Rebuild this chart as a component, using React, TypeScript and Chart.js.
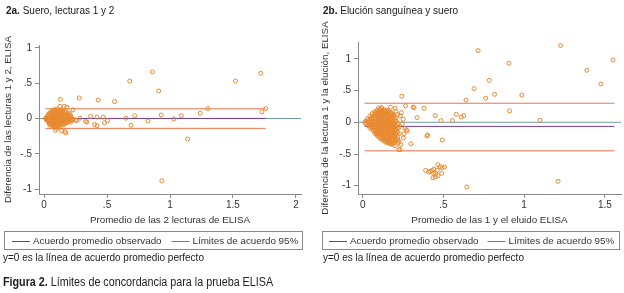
import React, { useEffect, useRef } from "react";
import { Chart, registerables } from "chart.js";

Chart.register(...registerables);

// ---------- Data ----------
const serumPoints: [number, number][] = [
  [0.012, 0.004], [0.016, -0.012], [0.02, 0.018], [0.022, -0.022], [0.027, 0.002],
  [0.025, 0.011], [0.028, -0.028],
  [0.031, 0.041], [0.033, -0.038], [0.036, 0.063], [0.038, 0.012], [0.04, -0.056], [0.042, -0.015],
  [0.043, 0.054], [0.044, 0.026], [0.042, -0.004], [0.045, -0.036], [0.043, -0.071],
  [0.048, 0.083], [0.05, 0.038], [0.052, 0.006], [0.049, -0.031], [0.053, -0.072], [0.046, -0.092],
  [0.058, 0.086], [0.057, 0.046], [0.059, 0.004], [0.056, -0.041], [0.058, -0.081],
  [0.063, 0.104], [0.066, 0.062], [0.061, 0.024], [0.068, -0.018], [0.064, -0.058], [0.067, -0.101],
  [0.072, 0.112], [0.071, 0.079], [0.073, 0.041], [0.072, 0.001], [0.071, -0.039], [0.073, -0.081], [0.072, -0.112],
  [0.078, 0.122], [0.081, 0.081], [0.083, 0.043], [0.079, 0.003], [0.082, -0.038], [0.077, -0.079], [0.084, -0.118],
  [0.088, 0.114], [0.087, 0.079], [0.089, 0.041], [0.088, -0.001], [0.087, -0.041], [0.089, -0.079], [0.088, -0.109],
  [0.093, 0.102], [0.097, 0.058], [0.092, 0.021], [0.098, -0.019], [0.094, -0.062], [0.096, -0.098], [0.101, 0.134],
  [0.103, 0.091], [0.102, 0.051], [0.104, 0.009], [0.103, -0.031], [0.102, -0.071], [0.104, -0.112],
  [0.108, 0.112], [0.112, 0.072], [0.109, 0.028], [0.113, -0.012], [0.107, -0.052], [0.111, -0.088], [0.116, -0.121],
  [0.118, 0.094], [0.117, 0.051], [0.119, 0.011], [0.118, -0.029], [0.117, -0.071], [0.119, -0.104],
  [0.124, 0.091], [0.127, 0.048], [0.122, 0.012], [0.128, -0.031], [0.123, -0.069], [0.131, 0.118],
  [0.133, 0.101], [0.132, 0.061], [0.134, 0.019], [0.133, -0.021], [0.132, -0.061], [0.134, -0.091],
  [0.138, 0.079], [0.142, 0.041], [0.137, 0.002], [0.143, -0.041], [0.139, -0.079], [0.147, 0.108],
  [0.15, 0.089], [0.149, 0.051], [0.151, 0.011], [0.15, -0.029], [0.149, -0.071],
  [0.157, 0.068], [0.161, 0.028], [0.158, -0.012], [0.163, -0.052], [0.154, -0.088], [0.166, 0.098],
  [0.17, 0.081], [0.169, 0.041], [0.171, 0.001], [0.17, -0.041], [0.169, -0.069],
  [0.176, 0.052], [0.181, 0.012], [0.178, -0.028], [0.183, -0.061], [0.187, 0.079],
  [0.19, 0.061], [0.191, 0.021], [0.189, -0.019], [0.19, -0.044],
  [0.198, 0.038], [0.202, 0.002], [0.197, -0.031], [0.206, 0.068], [0.211, -0.052],
  [0.21, 0.041], [0.209, 0.001], [0.211, -0.029],
  [0.218, 0.021], [0.223, -0.018],
  [0.13, 0.27], [0.127, 0.172], [0.16, 0.172], [0.18, 0.158], [0.23, 0.122], [0.1, -0.142],
  [0.09, -0.168], [0.14, -0.176], [0.165, -0.182], [0.172, -0.202], [0.23, -0.012], [0.25, -0.021],
  [0.26, -0.031], [0.285, 0.005], [0.33, -0.04], [0.34, -0.05], [0.28, 0.29],
  [0.37, 0.03], [0.4, -0.085], [0.42, -0.1], [0.42, 0.02], [0.43, 0.26], [0.47, 0.02], [0.48, -0.06],
  [0.505, -0.03], [0.56, 0.24], [0.65, 0.005], [0.68, 0.53], [0.69, -0.095], [0.72, 0.04],
  [0.825, -0.035], [0.86, 0.66], [0.91, 0.39], [0.93, 0.05], [0.935, -0.88], [1.03, -0.005],
  [1.09, 0.04], [1.14, -0.29], [1.24, 0.075], [1.3, 0.14], [1.52, 0.53], [1.72, 0.64],
  [1.73, 0.095], [1.76, 0.14],
];

const elutionPoints: [number, number][] = [
  [0.014, 0.002], [0.017, -0.021], [0.019, 0.019],
  [0.029, 0.052], [0.031, 0.003], [0.032, -0.049],
  [0.037, 0.026], [0.038, -0.024],
  [0.044, 0.098], [0.046, 0.051], [0.043, 0.004], [0.047, -0.048], [0.045, -0.091],
  [0.052, 0.076], [0.053, 0.024], [0.051, -0.026], [0.052, -0.071],
  [0.059, 0.138], [0.062, 0.091], [0.058, 0.042], [0.061, -0.009], [0.063, -0.061], [0.06, -0.112],
  [0.067, 0.116], [0.068, 0.064], [0.066, 0.016], [0.067, -0.036], [0.068, -0.086], [0.066, -0.134],
  [0.074, 0.168], [0.077, 0.122], [0.073, 0.071], [0.076, 0.019], [0.078, -0.032], [0.074, -0.081], [0.077, -0.129], [0.075, -0.171],
  [0.082, 0.156], [0.083, 0.104], [0.081, 0.056], [0.082, 0.004], [0.083, -0.046], [0.081, -0.094], [0.082, -0.146], [0.083, -0.189],
  [0.089, 0.188], [0.092, 0.141], [0.088, 0.092], [0.091, 0.038], [0.093, -0.012], [0.089, -0.059], [0.092, -0.108], [0.09, -0.161], [0.091, -0.208],
  [0.097, 0.176], [0.098, 0.124], [0.096, 0.076], [0.097, 0.024], [0.098, -0.026], [0.096, -0.074], [0.097, -0.126], [0.098, -0.174], [0.096, -0.219],
  [0.104, 0.201], [0.107, 0.152], [0.103, 0.101], [0.106, 0.049], [0.108, 0.002], [0.104, -0.051], [0.107, -0.098], [0.105, -0.152], [0.103, -0.198], [0.106, -0.241],
  [0.112, 0.186], [0.113, 0.134], [0.111, 0.086], [0.112, 0.034], [0.113, -0.016], [0.111, -0.064], [0.112, -0.116], [0.113, -0.164], [0.111, -0.216], [0.112, -0.259],
  [0.119, 0.212], [0.122, 0.161], [0.118, 0.109], [0.121, 0.058], [0.123, 0.011], [0.119, -0.041], [0.122, -0.091], [0.12, -0.139], [0.118, -0.191], [0.121, -0.238], [0.123, -0.281],
  [0.127, 0.186], [0.128, 0.134], [0.126, 0.086], [0.127, 0.034], [0.128, -0.016], [0.126, -0.064], [0.127, -0.116], [0.128, -0.164], [0.126, -0.216], [0.127, -0.266],
  [0.134, 0.198], [0.137, 0.149], [0.133, 0.098], [0.136, 0.052], [0.138, -0.002], [0.134, -0.049], [0.137, -0.101], [0.135, -0.148], [0.133, -0.202], [0.136, -0.251], [0.138, -0.298],
  [0.142, 0.176], [0.143, 0.124], [0.141, 0.076], [0.142, 0.024], [0.143, -0.026], [0.141, -0.074], [0.142, -0.126], [0.143, -0.174], [0.141, -0.226], [0.142, -0.274], [0.143, -0.316],
  [0.149, 0.188], [0.152, 0.139], [0.148, 0.091], [0.151, 0.041], [0.153, -0.011], [0.149, -0.061], [0.152, -0.109], [0.15, -0.161], [0.148, -0.209], [0.151, -0.262], [0.153, -0.312],
  [0.157, 0.166], [0.158, 0.114], [0.156, 0.066], [0.157, 0.014], [0.158, -0.036], [0.156, -0.084], [0.157, -0.136], [0.158, -0.184], [0.156, -0.236], [0.157, -0.284], [0.158, -0.326],
  [0.164, 0.172], [0.167, 0.118], [0.163, 0.071], [0.166, 0.019], [0.168, -0.031], [0.164, -0.082], [0.167, -0.129], [0.165, -0.181], [0.163, -0.229], [0.166, -0.279], [0.168, -0.331],
  [0.172, 0.146], [0.173, 0.094], [0.171, 0.046], [0.172, -0.006], [0.173, -0.056], [0.171, -0.104], [0.172, -0.156], [0.173, -0.204], [0.171, -0.256], [0.172, -0.304], [0.173, -0.341],
  [0.179, 0.148], [0.182, 0.101], [0.178, 0.052], [0.181, 0.002], [0.183, -0.048], [0.179, -0.102], [0.182, -0.149], [0.18, -0.198], [0.178, -0.251], [0.181, -0.302], [0.183, -0.348],
  [0.187, 0.126], [0.188, 0.074], [0.186, 0.026], [0.187, -0.026], [0.188, -0.076], [0.186, -0.124], [0.187, -0.176], [0.188, -0.224], [0.186, -0.276], [0.187, -0.326],
  [0.194, 0.098], [0.197, 0.041], [0.193, -0.021], [0.196, -0.079], [0.198, -0.141], [0.194, -0.199], [0.197, -0.262], [0.195, -0.328],
  [0.202, 0.071], [0.203, 0.011], [0.201, -0.051], [0.202, -0.109], [0.203, -0.171], [0.201, -0.229], [0.202, -0.291],
  [0.209, 0.021], [0.212, -0.052], [0.208, -0.118], [0.211, -0.191], [0.213, -0.259],
  [0.217, -0.019], [0.218, -0.091], [0.216, -0.156], [0.217, -0.226], [0.218, -0.281],
  [0.224, -0.081], [0.227, -0.179], [0.223, -0.302],
  [0.24, 0.152], [0.231, 0.101], [0.251, 0.048], [0.246, -0.021], [0.262, -0.098], [0.252, -0.248],
  [0.236, -0.351], [0.201, 0.221], [0.172, 0.238], [0.116, 0.235], [0.099, 0.226], [0.216, 0.119],
  [0.206, 0.171], [0.256, -0.181], [0.221, -0.331], [0.201, -0.368],
  [0.242, 0.41], [0.265, 0.26], [0.312, 0.24], [0.318, 0.228], [0.38, 0.22], [0.337, 0.074],
  [0.45, 0.105], [0.485, 0.026], [0.556, 0.026], [0.58, 0.126], [0.61, 0.084], [0.626, 0.105],
  [0.64, 0.35], [0.69, 0.53], [0.715, 1.13], [0.762, 0.38], [0.784, 0.66], [0.817, 0.44],
  [0.906, 0.93], [0.91, 0.18], [0.986, 0.43], [1.097, 0.03], [1.226, 1.21], [1.388, 0.82],
  [1.476, 0.605], [1.55, 0.98],
  [0.271, -0.12], [0.276, -0.135], [0.398, -0.215], [0.402, -0.2], [0.298, -0.34], [0.493, -0.28],
  [0.224, -0.43], [0.231, -0.432], [0.645, -1.02], [1.21, -0.93],
  [0.39, -0.758], [0.409, -0.784], [0.419, -0.774], [0.431, -0.758], [0.441, -0.737], [0.462, -0.758],
  [0.439, -0.805], [0.452, -0.805], [0.466, -0.668], [0.48, -0.7], [0.493, -0.716], [0.507, -0.705],
  [0.489, -0.805], [0.466, -0.842], [0.45, -0.858], [0.435, -0.874],
];

const serumXTicks = [0, 0.5, 1, 1.5, 2];
const serumXTickLabels = ["0", ".5", "1", "1.5", "2"];
const serumYTicks = [-1, -0.5, 0, 0.5, 1];
const serumYTickLabels = ["-1", "-.5", "0", ".5", "1"];
const elutionXTicks = [0, 0.5, 1, 1.5];
const elutionXTickLabels = ["0", ".5", "1", "1.5"];
const elutionYTicks = [-1, -0.5, 0, 0.5, 1];
const elutionYTickLabels = ["-1", "-.5", "0", ".5", "1"];

// mean difference, lower limit, upper limit
const serumAgreement = [0.001, -0.139, 0.137];
const serumSpan = [0.01, 1.76];
const elutionAgreement = [-0.065, -0.45, 0.3];
const elutionSpan = [0.012, 1.56];

const legendLabels = ["Acuerdo promedio observado", "Límites de acuerdo 95%"];

// ---------- Styling ----------
const FONT = "'Liberation Sans', Arial, Helvetica, sans-serif";
const TEXT = "#333333";
const AXIS = "#8a8a8a";
const POINT = "#e8892f";
const MEAN = "#6f3fa6";
const LIMIT = "#f07248";
const LEGEND_MEAN = "#7434a8";
const LEGEND_LIMIT = "#f24a2c";
const ZERO = "#6e9e9e";
const CH_FONT = 9.8;

Chart.defaults.font.family = FONT;
Chart.defaults.font.size = 10;
Chart.defaults.color = TEXT;

type LegendBox = { left: number; top: number; width: number; height: number; inset: number; gap: number };

// Boxed legend drawn on the chart canvas (one plugin instance per chart)
function makeBoxedLegend(box: LegendBox, items: { text: string; stroke: string }[]) {
  return {
    id: "boxedLegend",
    afterDraw(chart: any) {
      const ctx = chart.ctx as CanvasRenderingContext2D;
      ctx.save();
      ctx.lineWidth = 1;
      ctx.strokeStyle = AXIS;
      ctx.strokeRect(box.left + 0.5, box.top + 0.5, box.width, box.height);
      ctx.font = `${CH_FONT}px ${FONT}`;
      ctx.textBaseline = "middle";
      ctx.textAlign = "left";
      const y = box.top + box.height / 2 + 1;
      const ly = Math.round(y) + 0.5;
      let x = box.left + box.inset;
      for (const it of items) {
        ctx.strokeStyle = it.stroke;
        ctx.beginPath();
        ctx.moveTo(x, ly);
        ctx.lineTo(x + 18, ly);
        ctx.stroke();
        ctx.fillStyle = TEXT;
        ctx.fillText(it.text, x + 21, y);
        x += 21 + ctx.measureText(it.text).width + box.gap;
      }
      ctx.restore();
    },
  };
}

type PanelProps = {
  points: [number, number][];
  agreement: number[];
  span: number[];
  xTicks: number[];
  xTickLabels: string[];
  yTicks: number[];
  yTickLabels: string[];
  xRange: [number, number];
  yRange: [number, number];
  xTitle: string;
  yTitle: string;
  canvasLeft: number;
  canvasWidth: number;
  padding: { left: number; right: number; top: number; bottom: number };
  yWidth: number;
  legend: LegendBox;
};

const H = 260;

function Panel(p: PanelProps) {
  const ref = useRef<HTMLCanvasElement | null>(null);
  useEffect(() => {
    if (!ref.current) return;
    const [mean, lo, hi] = p.agreement;
    const seg = (y: number) => [
      { x: p.span[0], y },
      { x: p.span[1], y },
    ];
    const lineDs = (label: string, data: any, color: string) => ({
      label,
      data,
      showLine: true,
      borderColor: color,
      backgroundColor: color,
      borderWidth: 1,
      pointRadius: 0,
      pointHoverRadius: 0,
    });
    const chart = new Chart(ref.current, {
      type: "scatter",
      data: {
        datasets: [
          {
            label: "",
            data: p.points.map(([x, y]) => ({ x, y })),
            borderColor: POINT,
            backgroundColor: "rgba(255,255,255,0)",
            borderWidth: 1,
            pointRadius: 2,
            pointHoverRadius: 2,
          },
          lineDs(legendLabels[0], seg(mean), MEAN),
          lineDs(legendLabels[1], seg(hi), LIMIT),
          lineDs("", seg(lo), LIMIT),
          lineDs(
            "",
            [
              { x: p.xRange[0], y: 0 },
              { x: p.xRange[1], y: 0 },
            ],
            ZERO
          ),
        ] as any,
      },
      options: {
        animation: false,
        responsive: false,
        devicePixelRatio: 1,
        events: [],
        layout: { padding: p.padding },
        plugins: {
          legend: { display: false },
          tooltip: { enabled: false },
        },
        scales: {
          x: {
            type: "linear",
            min: p.xRange[0],
            max: p.xRange[1],
            afterBuildTicks: (s: any) => {
              s.ticks = p.xTicks.map((v) => ({ value: v }));
            },
            afterFit: (s: any) => {
              s.height = 33;
            },
            ticks: {
              padding: 1,
              color: TEXT,
              font: { size: 10, family: FONT },
              callback: (v: any) => {
                const i = p.xTicks.indexOf(Number(v));
                return i >= 0 ? p.xTickLabels[i] : "";
              },
            },
            grid: { drawOnChartArea: false, tickLength: 4, color: AXIS },
            border: { color: AXIS },
            title: {
              display: true,
              text: p.xTitle,
              color: TEXT,
              font: { size: CH_FONT, family: FONT },
              padding: { top: 0, bottom: 1 },
            },
          },
          y: {
            type: "linear",
            min: p.yRange[0],
            max: p.yRange[1],
            afterBuildTicks: (s: any) => {
              s.ticks = p.yTicks.map((v) => ({ value: v }));
            },
            afterFit: (s: any) => {
              s.width = p.yWidth;
            },
            ticks: {
              padding: 3,
              color: TEXT,
              font: { size: 10, family: FONT },
              callback: (v: any) => {
                const i = p.yTicks.indexOf(Number(v));
                return i >= 0 ? p.yTickLabels[i] : "";
              },
            },
            grid: { drawOnChartArea: false, tickLength: 4, color: AXIS },
            border: { color: AXIS },
            title: {
              display: true,
              text: p.yTitle,
              color: TEXT,
              font: { size: CH_FONT, family: FONT },
              padding: { top: 0, bottom: 0 },
            },
          },
        },
      } as any,
      plugins: [
        makeBoxedLegend(p.legend, [
          { text: legendLabels[0], stroke: LEGEND_MEAN },
          { text: legendLabels[1], stroke: LEGEND_LIMIT },
        ]),
      ],
    });
    return () => chart.destroy();
  }, []);
  return (
    <canvas
      ref={ref}
      width={p.canvasWidth}
      height={H}
      style={{ position: "absolute", left: p.canvasLeft, top: 0, width: p.canvasWidth, height: H }}
    />
  );
}

const textStyle = (left: number, top: number, size = 10): React.CSSProperties => ({
  position: "absolute",
  left,
  top,
  fontFamily: FONT,
  fontSize: size,
  lineHeight: "12px",
  color: "#222",
  whiteSpace: "nowrap",
});

export default function App() {
  return (
    <div style={{ position: "absolute", left: 0, top: 0, width: 624, height: 293, background: "#fff", overflow: "hidden" }}>
      <Panel
        points={serumPoints}
        agreement={serumAgreement}
        span={serumSpan}
        xTicks={serumXTicks}
        xTickLabels={serumXTickLabels}
        yTicks={serumYTicks}
        yTickLabels={serumYTickLabels}
        xRange={[-0.04, 2.04]}
        yRange={[-1.068, 1.04]}
        xTitle="Promedio de las 2 lecturas de ELISA"
        yTitle="Diferencia de las lecturas 1 y 2, ELISA"
        canvasLeft={0}
        canvasWidth={310}
        padding={{ left: 2, right: 9, top: 45, bottom: 33 }}
        yWidth={37}
        legend={{ left: 4, top: 231, width: 298, height: 18, inset: 8, gap: 10 }}
      />
      <Panel
        points={elutionPoints}
        agreement={elutionAgreement}
        span={elutionSpan}
        xTicks={elutionXTicks}
        xTickLabels={elutionXTickLabels}
        yTicks={elutionYTicks}
        yTickLabels={elutionYTickLabels}
        xRange={[-0.029, 1.6]}
        yRange={[-1.13, 1.265]}
        xTitle="Promedio de las 1 y el eluido ELISA"
        yTitle="Diferencia de la lectura 1 y la elución, ELISA"
        canvasLeft={310}
        canvasWidth={314}
        padding={{ left: 9, right: 2, top: 42, bottom: 33 }}
        yWidth={39}
        legend={{ left: 12, top: 231, width: 297, height: 18, inset: 7, gap: 9 }}
      />
      <div style={textStyle(6, 5)}>
        <b>2a.</b> Suero, lecturas 1 y 2
      </div>
      <div style={textStyle(323, 5)}>
        <b>2b.</b> Elución sanguínea y suero
      </div>
      <div style={textStyle(3, 252)}>y=0 es la línea de acuerdo promedio perfecto</div>
      <div style={textStyle(323, 252)}>y=0 es la línea de acuerdo promedio perfecto</div>
      <div
        style={{
          ...textStyle(3, 276, 12.5),
          lineHeight: "13px",
          transform: "scaleX(0.86)",
          transformOrigin: "left center",
        }}
      >
        <b>Figura 2.</b> Límites de concordancia para la prueba ELISA
      </div>
    </div>
  );
}
